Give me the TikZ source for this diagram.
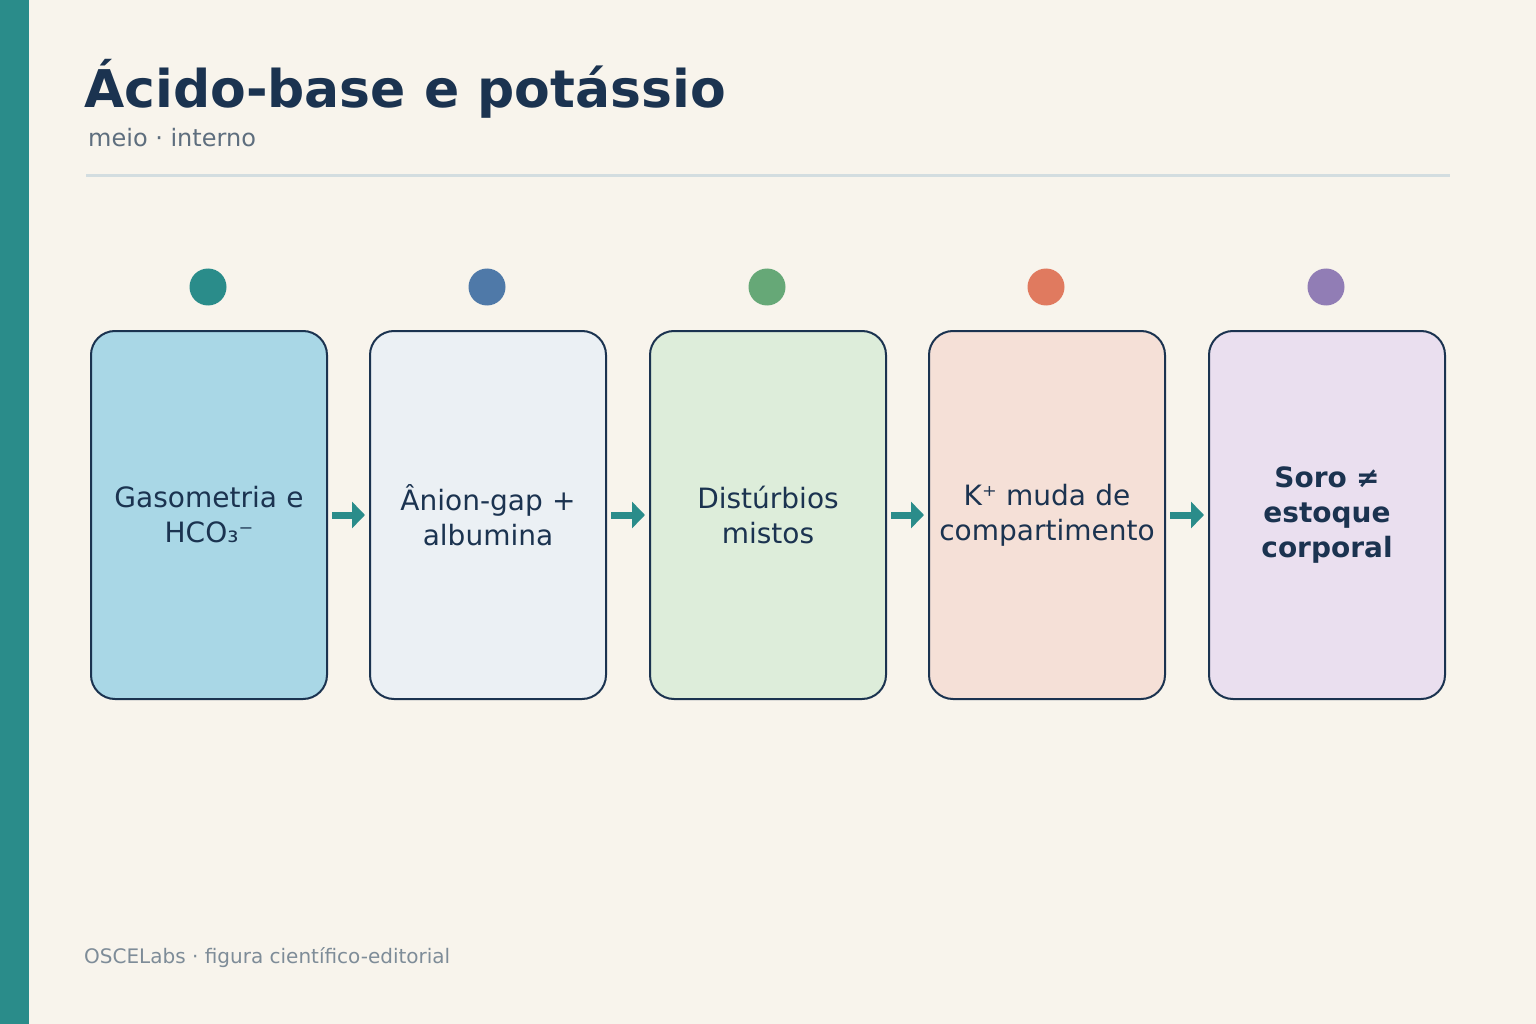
\documentclass[tikz,border=0pt]{standalone}
\usepackage{fontspec}
\setmainfont{DejaVu Sans}
\usetikzlibrary{arrows.meta}
\definecolor{bg}{HTML}{F8F4EC}
\definecolor{teal}{HTML}{2A8C8A}
\definecolor{ink}{HTML}{1B3350}
\definecolor{sub}{HTML}{5E6E7E}
\definecolor{foot}{HTML}{7E8C98}
\definecolor{rule}{HTML}{D3DDE0}
\definecolor{bA}{HTML}{A9D7E6}\definecolor{bB}{HTML}{EBF0F4}\definecolor{bC}{HTML}{DDEDDA}\definecolor{bD}{HTML}{F5E0D7}\definecolor{bE}{HTML}{EADFEF}
\definecolor{cA}{HTML}{2A8C8A}\definecolor{cB}{HTML}{4F79A8}\definecolor{cC}{HTML}{66A877}\definecolor{cD}{HTML}{E07A5F}\definecolor{cE}{HTML}{917DB5}
\begin{document}
\begin{tikzpicture}[x=1pt,y=-1pt,
  box/.style={draw=ink,line width=2pt,rounded corners=24pt,minimum width=236pt,minimum height=368pt,align=center,text=ink,font=\fontsize{28}{35}\selectfont,inner sep=0pt,text width=234pt},
  dot/.style={circle,minimum size=37pt,inner sep=0pt},
  arr/.style={-{Triangle[length=13pt,width=26pt]},teal,line width=7pt}]
\fill[bg] (0,0) rectangle (1536,1024);
\fill[teal] (0,0) rectangle (29,1024);
\node[anchor=base west,text=ink,font=\fontsize{52}{60}\selectfont\bfseries,inner sep=0pt] (title) at (84,108) {Ácido-base e potássio};
\node[anchor=base west,text=sub,font=\fontsize{24}{28}\selectfont,inner sep=0pt] (subt) at (88,147) {meio · interno};
\draw[rule,line width=3pt] (86,176) -- (1450,176);
\foreach \i/\x/\f/\c/\t in {1/209/bA/cA/{Gasometria e\\HCO₃⁻},2/488/bB/cB/{Ânion-gap +\\albumina},3/768/bC/cC/{Distúrbios\\mistos},4/1047/bD/cD/{K⁺ muda de\\compartimento},5/1327/bE/cE/{\textbf{Soro ≠}\\\textbf{estoque}\\\textbf{corporal}}}{
  \node[box,fill=\f] (b\i) at (\x,515) {\t};
  \node[dot,fill=\c] (d\i) at (\x-1,287) {};
}
\foreach \a/\b in {1/2,2/3,3/4,4/5}{
  \draw[arr] ([xshift=4pt]b\a.east) -- ([xshift=-4pt]b\b.west);
}
\node[anchor=base west,text=foot,font=\fontsize{20}{24}\selectfont,inner sep=0pt] (ft) at (84,963) {OSCELabs · figura científico-editorial};
\end{tikzpicture}
\end{document}
